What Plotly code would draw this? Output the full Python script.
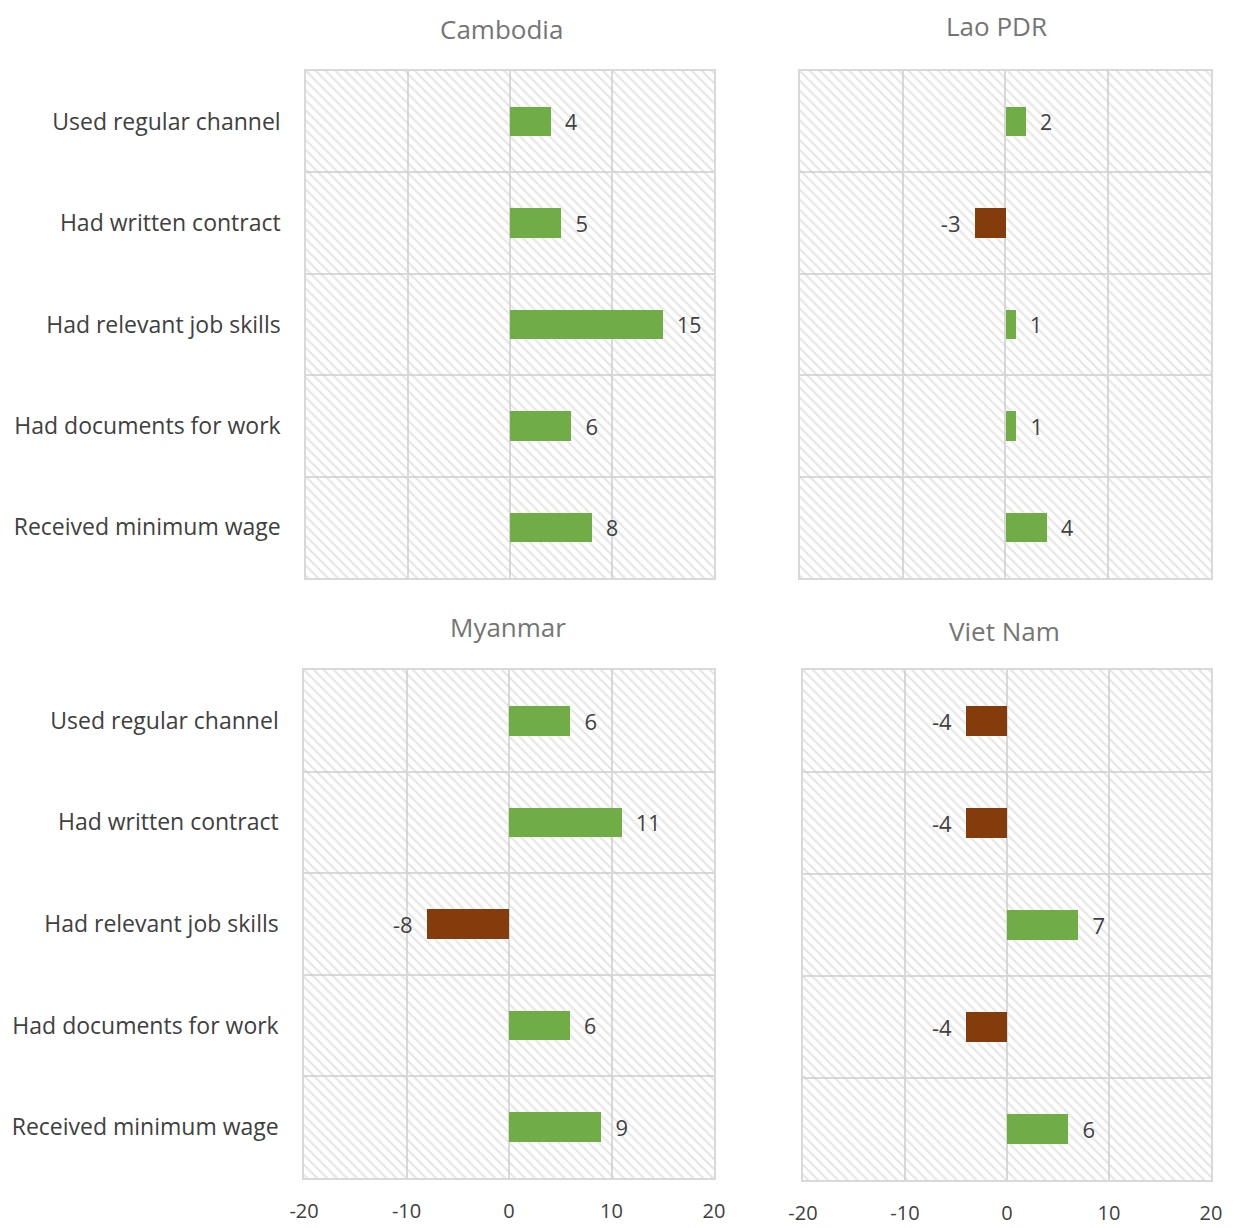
import plotly.graph_objects as go

categories = ["Used regular channel", "Had written contract", "Had relevant job skills",
              "Had documents for work", "Received minimum wage"]
countries = ["Cambodia", "Lao PDR", "Myanmar", "Viet Nam"]
cambodia = [4, 5, 15, 6, 8]
lao = [2, -3, 1, 1, 4]
myanmar = [6, 11, -8, 6, 9]
vietnam = [-4, -4, 7, -4, 6]
values = [cambodia, lao, myanmar, vietnam]
x_ticks = [-20, -10, 0, 10, 20]
x_ticktext = ["-20", "-10", "0", "10", "20"]

GREEN = "#70AD47"
BROWN = "#843C0C"
GRID = "#d9d9d9"
TXT = "#404040"
FONT = "Open Sans"
PAD = "\u00a0\u00a0"

x_domains = [[0.2476, 0.5777], [0.6472, 0.9798], [0.2460, 0.5777], [0.6497, 0.9798]]
y_domains = [[0.5293, 0.9422], [0.5293, 0.9422], [0.0407, 0.4544], [0.0391, 0.4544]]
title_x = [0.406, 0.8066, 0.411, 0.813]
title_y = [0.9764, 0.9788, 0.4894, 0.4862]


def label(v):
    return PAD + str(v) if v >= 0 else str(v) + PAD


fig = go.Figure()
layout = {}
for i, (name, vals) in enumerate(zip(countries, values)):
    n = "" if i == 0 else str(i + 1)
    xa, ya = "x" + n, "y" + n
    # hatched plot-area background
    fig.add_trace(go.Bar(
        y=categories, x=[x_ticks[-1] - x_ticks[0]] * len(categories), base=x_ticks[0],
        orientation="h", width=1, xaxis=xa, yaxis=ya, hoverinfo="skip", showlegend=False,
        marker=dict(color="rgba(255,255,255,0)", line=dict(width=0),
                    pattern=dict(shape="\\", fgcolor="#cdcdcd", bgcolor="rgba(255,255,255,0)",
                                 size=7, solidity=0.32)),
    ))
    fig.add_trace(go.Bar(
        y=categories, x=vals, orientation="h", width=0.29, xaxis=xa, yaxis=ya,
        marker=dict(color=[GREEN if v >= 0 else BROWN for v in vals], line=dict(width=0)),
        text=[label(v) for v in vals], textposition="outside", cliponaxis=False,
        textfont=dict(family=FONT, size=22, color=TXT), showlegend=False,
    ))
    bottom = i >= 2
    left = i % 2 == 0
    layout["xaxis" + n] = dict(
        domain=x_domains[i], anchor=ya, range=[x_ticks[0], x_ticks[-1]],
        tickvals=x_ticks, ticktext=x_ticktext, showticklabels=bottom,
        showgrid=True, gridcolor=GRID, gridwidth=1.5,
        zeroline=False, showline=True, linecolor=GRID, linewidth=1.5, mirror=True,
        ticks="", ticklabelstandoff=14, automargin=False,
        tickfont=dict(family=FONT, size=20, color=TXT), fixedrange=True,
    )
    layout["yaxis" + n] = dict(
        domain=y_domains[i], anchor=xa, type="category", autorange="reversed",
        tickson="boundaries", showgrid=True, gridcolor=GRID, gridwidth=1.5,
        showline=True, linecolor=GRID, linewidth=1.5, mirror=True, ticks="",
        showticklabels=left, ticklabelstandoff=19, automargin=False,
        tickfont=dict(family=FONT, size=23, color=TXT), fixedrange=True,
    )
    fig.add_annotation(
        text=name, xref="paper", yref="paper", x=title_x[i], y=title_y[i],
        showarrow=False, xanchor="center", yanchor="middle",
        font=dict(family=FONT, size=26, color="#757575"),
    )

fig.update_layout(
    **layout,
    width=1236, height=1228, margin=dict(l=0, r=0, t=0, b=0),
    paper_bgcolor="white", plot_bgcolor="white",
    barmode="overlay", bargap=0, showlegend=False,
    font=dict(family=FONT, color=TXT),
)
fig.write_html("out.html")
